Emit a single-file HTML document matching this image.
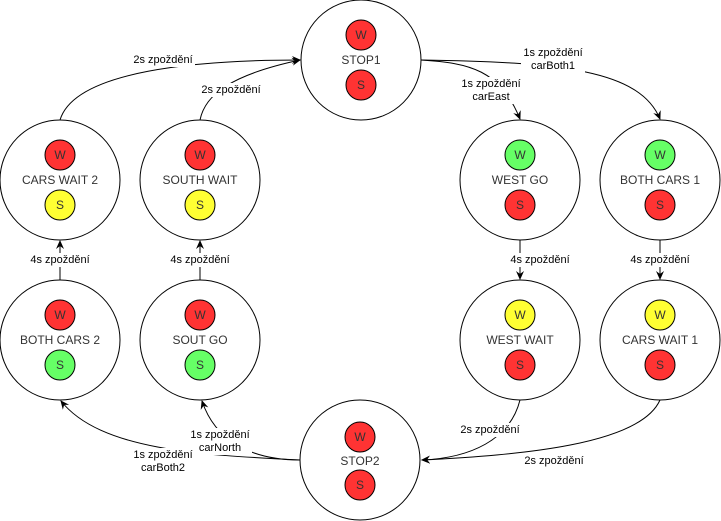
<!DOCTYPE html>
<html><head><meta charset="utf-8"><style>
html,body{margin:0;padding:0;background:#fff;}
svg{display:block;}
text{font-family:"Liberation Sans",sans-serif;}
.nm{font-size:12px;fill:#333;text-anchor:middle;dominant-baseline:central;}
.lt{font-size:12px;fill:#333;text-anchor:middle;dominant-baseline:central;}
.lb{font-size:11px;fill:#000;text-anchor:middle;dominant-baseline:central;}
.e{fill:none;stroke:#000;stroke-width:1;}
</style></head><body>
<svg width="721" height="521" viewBox="0 0 721 521" xmlns="http://www.w3.org/2000/svg">
<defs>
<marker id="a" markerWidth="10" markerHeight="10" refX="8" refY="5" orient="auto" markerUnits="userSpaceOnUse">
<path d="M0,1 L9,5 L0,9 L3,5 Z" fill="#000"/>
</marker>
</defs>
<!-- edges -->
<path class="e" d="M60,120 C75,70 200,60 300,60" marker-end="url(#a)"/>
<path class="e" d="M200,120 C205,95 230,75 300,60" marker-end="url(#a)"/>
<path class="e" d="M421,60 C560,62 640,70 660,119" marker-end="url(#a)"/>
<path class="e" d="M421,60 C470,63 500,70 520,119" marker-end="url(#a)"/>
<path class="e" d="M520,240 L520,279" marker-end="url(#a)"/>
<path class="e" d="M660,240 L660,279" marker-end="url(#a)"/>
<path class="e" d="M60,280 L60,241" marker-end="url(#a)"/>
<path class="e" d="M200,280 L200,241" marker-end="url(#a)"/>
<path class="e" d="M520,400 C510,440 470,458 422,460" marker-end="url(#a)"/>
<path class="e" d="M660,400 C640,445 520,455 422,460" marker-end="url(#a)"/>
<path class="e" d="M300,460 C250,460 215,440 202,401" marker-end="url(#a)"/>
<path class="e" d="M300,460 C200,455 100,450 61,401" marker-end="url(#a)"/>
<!-- labels -->
<g>
<rect x="131" y="53" width="64" height="14" fill="#fff"/><text class="lb" x="163" y="60">2s zpoždění</text>
<rect x="199" y="83" width="64" height="14" fill="#fff"/><text class="lb" x="231" y="90">2s zpoždění</text>
<rect x="521" y="46" width="64" height="27" fill="#fff"/><text class="lb" x="553" y="53">1s zpoždění</text><text class="lb" x="553" y="66">carBoth1</text>
<rect x="459" y="77" width="64" height="27" fill="#fff"/><text class="lb" x="491" y="84">1s zpoždění</text><text class="lb" x="491" y="97">carEast</text>
<rect x="508" y="253" width="64" height="14" fill="#fff"/><text class="lb" x="540" y="260">4s zpoždění</text>
<rect x="628" y="253" width="64" height="14" fill="#fff"/><text class="lb" x="660" y="260">4s zpoždění</text>
<rect x="28" y="253" width="64" height="14" fill="#fff"/><text class="lb" x="60" y="260">4s zpoždění</text>
<rect x="168" y="253" width="64" height="14" fill="#fff"/><text class="lb" x="200" y="260">4s zpoždění</text>
<rect x="458" y="423" width="64" height="14" fill="#fff"/><text class="lb" x="490" y="430">2s zpoždění</text>
<rect x="522" y="454" width="64" height="14" fill="#fff"/><text class="lb" x="554" y="461">2s zpoždění</text>
<rect x="188" y="428" width="64" height="27" fill="#fff"/><text class="lb" x="220" y="435">1s zpoždění</text><text class="lb" x="220" y="448">carNorth</text>
<rect x="131" y="448" width="64" height="27" fill="#fff"/><text class="lb" x="163" y="455">1s zpoždění</text><text class="lb" x="163" y="468">carBoth2</text>
</g>
<!-- nodes -->
<g id="nodes">
<!-- STOP1 -->
<circle cx="361" cy="60" r="60" fill="#fff" stroke="#000"/>
<circle cx="361" cy="35" r="15" fill="#f33" stroke="#000"/><text class="lt" x="361" y="35">W</text>
<circle cx="361" cy="85" r="15" fill="#f33" stroke="#000"/><text class="lt" x="361" y="85">S</text>
<text class="nm" x="361" y="60">STOP1</text>
<!-- STOP2 -->
<circle cx="360" cy="460" r="60" fill="#fff" stroke="#000"/>
<circle cx="360" cy="437" r="15" fill="#f33" stroke="#000"/><text class="lt" x="360" y="437">W</text>
<circle cx="360" cy="485" r="15" fill="#f33" stroke="#000"/><text class="lt" x="360" y="485">S</text>
<text class="nm" x="360" y="461">STOP2</text>
<!-- CARS WAIT 2 -->
<circle cx="60" cy="180" r="60" fill="#fff" stroke="#000"/>
<circle cx="60" cy="155" r="15" fill="#f33" stroke="#000"/><text class="lt" x="60" y="155">W</text>
<circle cx="60" cy="205" r="15" fill="#ff3" stroke="#000"/><text class="lt" x="60" y="205">S</text>
<text class="nm" x="60" y="180">CARS WAIT 2</text>
<!-- SOUTH WAIT -->
<circle cx="200" cy="180" r="60" fill="#fff" stroke="#000"/>
<circle cx="200" cy="155" r="15" fill="#f33" stroke="#000"/><text class="lt" x="200" y="155">W</text>
<circle cx="200" cy="205" r="15" fill="#ff3" stroke="#000"/><text class="lt" x="200" y="205">S</text>
<text class="nm" x="200" y="180">SOUTH WAIT</text>
<!-- WEST GO -->
<circle cx="520" cy="180" r="60" fill="#fff" stroke="#000"/>
<circle cx="520" cy="155" r="15" fill="#6f6" stroke="#000"/><text class="lt" x="520" y="155">W</text>
<circle cx="520" cy="205" r="15" fill="#f33" stroke="#000"/><text class="lt" x="520" y="205">S</text>
<text class="nm" x="520" y="180">WEST GO</text>
<!-- BOTH CARS 1 -->
<circle cx="660" cy="180" r="60" fill="#fff" stroke="#000"/>
<circle cx="660" cy="155" r="15" fill="#6f6" stroke="#000"/><text class="lt" x="660" y="155">W</text>
<circle cx="660" cy="205" r="15" fill="#f33" stroke="#000"/><text class="lt" x="660" y="205">S</text>
<text class="nm" x="660" y="180">BOTH CARS 1</text>
<!-- BOTH CARS 2 -->
<circle cx="60" cy="340" r="60" fill="#fff" stroke="#000"/>
<circle cx="60" cy="315" r="15" fill="#f33" stroke="#000"/><text class="lt" x="60" y="315">W</text>
<circle cx="60" cy="365" r="15" fill="#6f6" stroke="#000"/><text class="lt" x="60" y="365">S</text>
<text class="nm" x="60" y="340">BOTH CARS 2</text>
<!-- SOUT GO -->
<circle cx="200" cy="340" r="60" fill="#fff" stroke="#000"/>
<circle cx="200" cy="315" r="15" fill="#f33" stroke="#000"/><text class="lt" x="200" y="315">W</text>
<circle cx="200" cy="365" r="15" fill="#6f6" stroke="#000"/><text class="lt" x="200" y="365">S</text>
<text class="nm" x="200" y="340">SOUT GO</text>
<!-- WEST WAIT -->
<circle cx="520" cy="340" r="60" fill="#fff" stroke="#000"/>
<circle cx="520" cy="315" r="15" fill="#ff3" stroke="#000"/><text class="lt" x="520" y="315">W</text>
<circle cx="520" cy="365" r="15" fill="#f33" stroke="#000"/><text class="lt" x="520" y="365">S</text>
<text class="nm" x="520" y="340">WEST WAIT</text>
<!-- CARS WAIT 1 -->
<circle cx="660" cy="340" r="60" fill="#fff" stroke="#000"/>
<circle cx="660" cy="315" r="15" fill="#ff3" stroke="#000"/><text class="lt" x="660" y="315">W</text>
<circle cx="660" cy="365" r="15" fill="#f33" stroke="#000"/><text class="lt" x="660" y="365">S</text>
<text class="nm" x="660" y="340">CARS WAIT 1</text>
</g>
</svg>
</body></html>
